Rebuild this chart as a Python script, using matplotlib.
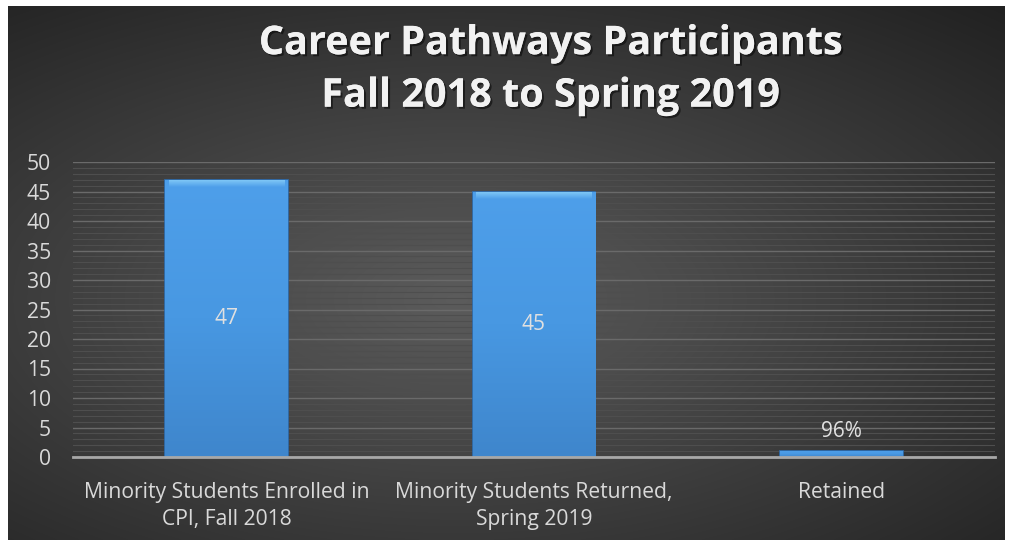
import numpy as np
import matplotlib
matplotlib.use("Agg")
import matplotlib.pyplot as plt
import matplotlib.patheffects as pe
from matplotlib.ticker import MultipleLocator

categories = ["Minority Students Enrolled in\nCPI, Fall 2018",
              "Minority Students Returned,\nSpring 2019",
              "Retained"]
values = [47, 45, 0.96]
labels = ["47", "45", "96%"]
y_ticks = [0, 5, 10, 15, 20, 25, 30, 35, 40, 45, 50]

plt.rcParams['font.family'] = ['Open Sans', 'DejaVu Sans']

fig = plt.figure(figsize=(10.16, 5.46), dpi=100, facecolor='white')

# dark radial gradient panel
bg = fig.add_axes([8 / 1016, 6 / 546, 997 / 1016, 534 / 546], zorder=0)
yy, xx = np.mgrid[0:1:300j, 0:1:600j]
r = np.sqrt(((xx - 0.45) / 1.0) ** 2 + ((yy - 0.55) / 0.9) ** 2)
shade = np.clip(0.36 - 0.28 * r, 0.13, 0.36)
bg.imshow(np.dstack([shade, shade, shade]), aspect='auto', extent=[0, 1, 0, 1],
          interpolation='bilinear')
bg.axis('off')

ax = fig.add_axes([73 / 1016, (546 - 457) / 546, 922 / 1016, 295 / 546], zorder=1)
ax.patch.set_alpha(0)

x = np.arange(len(categories))
bars = ax.bar(x, values, width=0.4, color='#4596e0', edgecolor='#2d6fb4',
              linewidth=1.2, zorder=3)

# vertical gradient inside bars, light bevel on top
grad = np.linspace(0, 1, 256).reshape(-1, 1)
cm_bar = matplotlib.colors.LinearSegmentedColormap.from_list(
    'barg', ['#3f86cc', '#4898e2', '#4e9fea'])
top = np.linspace(0, 1, 64).reshape(-1, 1)
cm_top = matplotlib.colors.LinearSegmentedColormap.from_list(
    'topg', ['#4e9fea', '#86cdf8'])
for b in bars:
    bx, by = b.get_x(), b.get_y()
    bw, bh = b.get_width(), b.get_height()
    im = ax.imshow(grad, cmap=cm_bar, aspect='auto', origin='lower',
                   extent=[bx, bx + bw, by, by + bh], zorder=3.5)
    im.set_clip_path(b)
    if bh > 5:
        im2 = ax.imshow(top, cmap=cm_top, aspect='auto', origin='lower',
                        extent=[bx + 0.012, bx + bw - 0.012, by + bh - 1.3, by + bh],
                        zorder=4)
        im2.set_clip_path(b)

for xi, v, lab in zip(x, values, labels):
    if v > 5:
        ax.text(xi, v / 2, lab, ha='center', va='center', color='#e0e0e0',
                fontsize=15, zorder=5)
    else:
        ax.text(xi, v + 1.5, lab, ha='center', va='bottom', color='#e0e0e0',
                fontsize=15, zorder=5)

ax.set_xlim(-0.5, 2.5)
ax.set_ylim(0, 50)
ax.set_yticks(y_ticks)
ax.yaxis.set_minor_locator(MultipleLocator(1))
ax.grid(axis='y', which='major', color='#6a6a6a', linewidth=1.0, zorder=1)
ax.grid(axis='y', which='minor', color='#4e4e4e', linewidth=0.8, zorder=1)
ax.set_xticks(x)
ax.set_xticklabels(categories, linespacing=1.35)
ax.tick_params(axis='both', which='both', length=0, colors='#d9d9d9',
               labelsize=15.2)
ax.tick_params(axis='y', pad=16)
ax.tick_params(axis='x', pad=18)
for s in ['top', 'right', 'left']:
    ax.spines[s].set_visible(False)
ax.spines['bottom'].set_color('#a8a8a8')
ax.spines['bottom'].set_linewidth(2)
ax.spines['bottom'].set_zorder(6)

fig.text(0.542, 0.872, "Career Pathways Participants\nFall 2018 to Spring 2019",
         ha='center', va='center', color='#f2f2f2', fontsize=28.5,
         fontweight='bold', linespacing=1.45,
         path_effects=[pe.withSimplePatchShadow(offset=(1.5, -1.5),
                                                shadow_rgbFace='black', alpha=0.5),
                       pe.Normal()])

fig.savefig("out.png", dpi=100, facecolor='white')
